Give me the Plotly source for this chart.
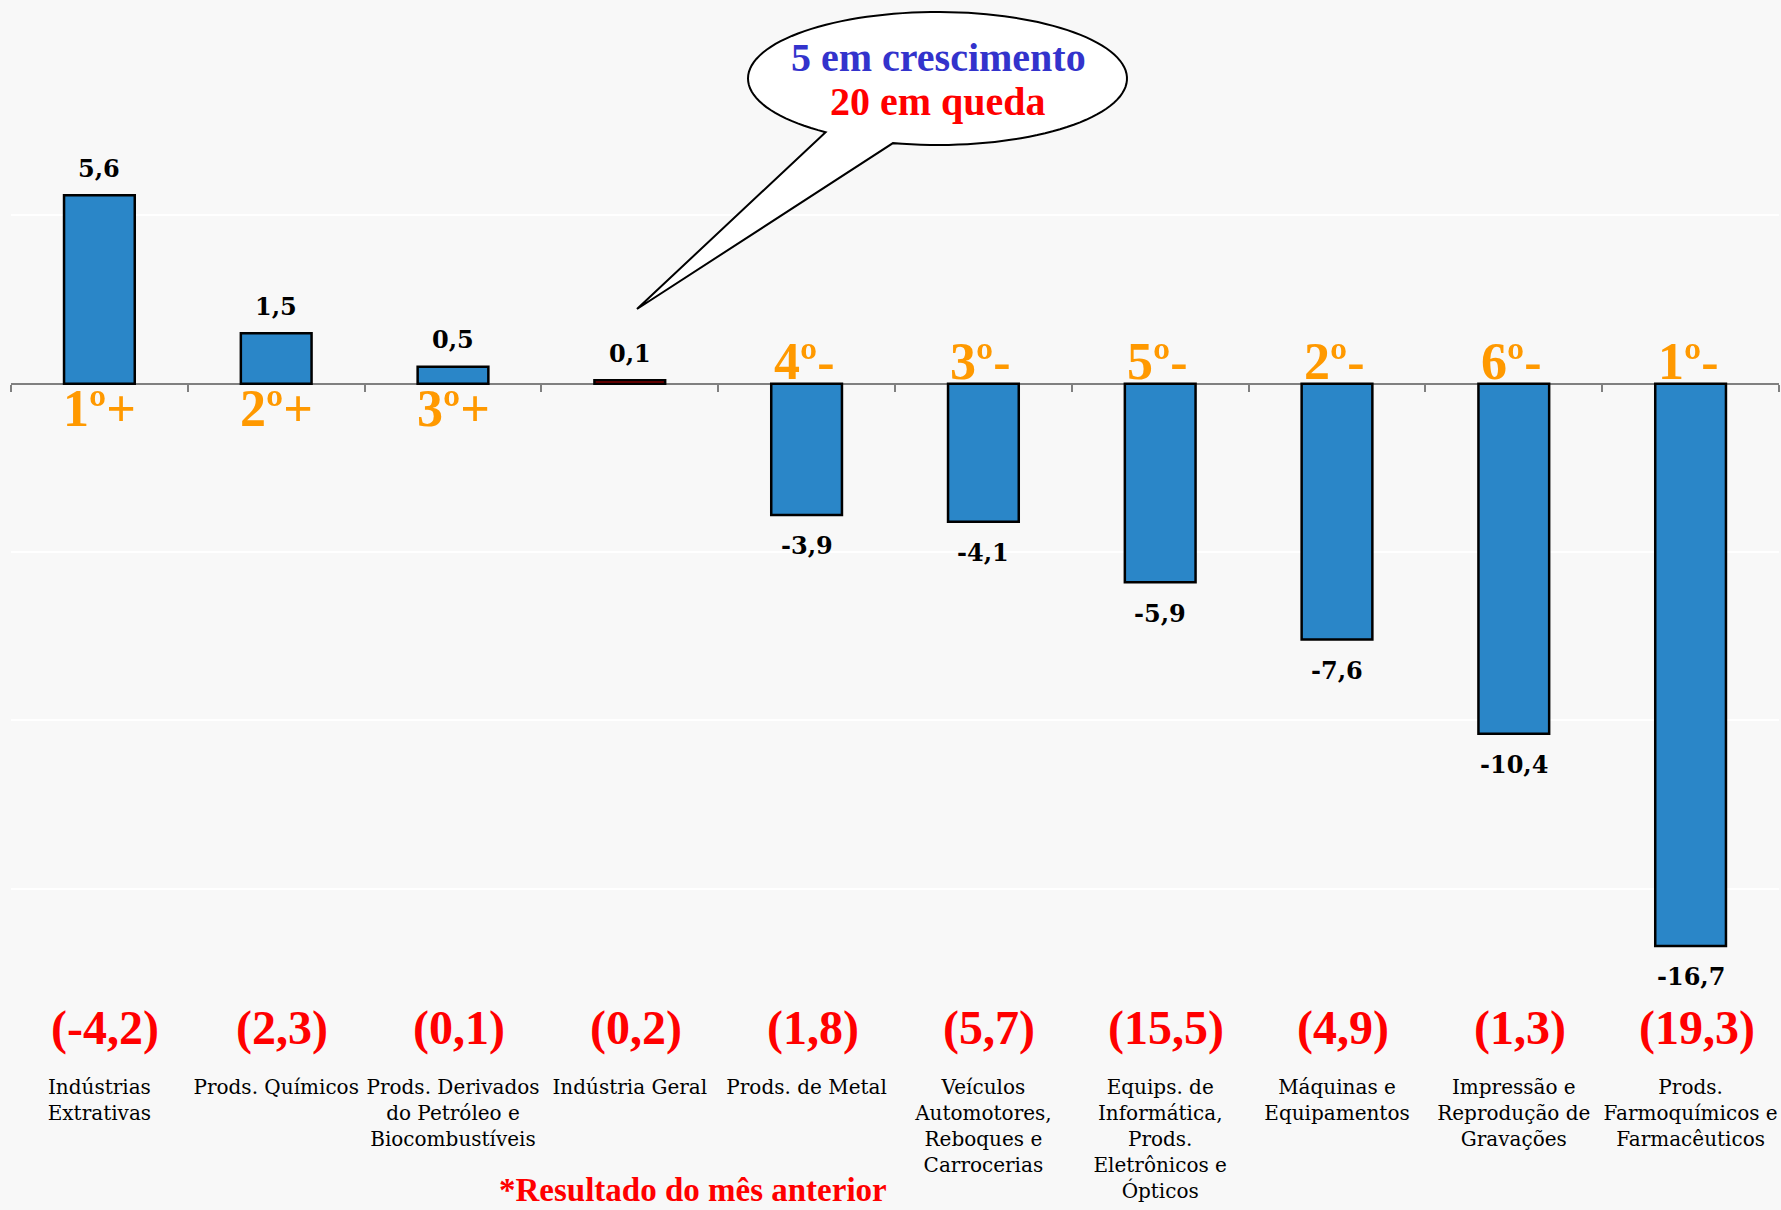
import numpy as np
import plotly.graph_objects as go

# ---------------- data ----------------
categories = [
    "Indústrias<br>Extrativas",
    "Prods. Químicos",
    "Prods. Derivados<br>do Petróleo e<br>Biocombustíveis",
    "Indústria Geral",
    "Prods. de Metal",
    "Veículos<br>Automotores,<br>Reboques e<br>Carrocerias",
    "Equips. de<br>Informática,<br>Prods.<br>Eletrônicos e<br>Ópticos",
    "Máquinas e<br>Equipamentos",
    "Impressão e<br>Reprodução de<br>Gravações",
    "Prods.<br>Farmoquímicos e<br>Farmacêuticos",
]
values = [5.6, 1.5, 0.5, 0.1, -3.9, -4.1, -5.9, -7.6, -10.4, -16.7]
previous_month = [-4.2, 2.3, 0.1, 0.2, 1.8, 5.7, 15.5, 4.9, 1.3, 19.3]
rank_labels = ["1º+", "2º+", "3º+", "", "4º-", "3º-", "5º-", "2º-", "6º-", "1º-"]
y_ticks = [-20, -15, -10, -5, 0, 5, 10]
y_range = [-20, 10]
callout_lines = ["5 em crescimento", "20 em queda"]
footnote = "*Resultado do mês anterior"

# ---------------- styles ----------------
BLUE = "#2A86C8"
bar_colors = [BLUE, BLUE, BLUE, "#C00000", BLUE, BLUE, BLUE, BLUE, BLUE, BLUE]
ORANGE = "#FF9900"
BG = "#F8F8F8"
W, H = 1781, 1210
ML, MR, MT, MB = 11, 2, 47, 153
PW, PH = W - ML - MR, H - MT - MB


def fmt(v):
    return f"{v:.1f}".replace(".", ",")


fig = go.Figure()
fig.add_trace(go.Bar(
    x=categories, y=values,
    marker=dict(color=bar_colors, line=dict(color="black", width=2.5)),
    hoverinfo="skip", showlegend=False,
))
# invisible companion trace so the zero-line category axis exists
fig.add_trace(go.Scatter(
    x=categories, y=values, xaxis="x2", mode="markers",
    marker=dict(opacity=0), hoverinfo="skip", showlegend=False,
))

annotations = []
for c, v in zip(categories, values):
    annotations.append(dict(
        x=c, y=v, text=fmt(v), showarrow=False, yanchor="middle",
        yshift=27 if v >= 0 else -31,
        font=dict(family="DejaVu Serif", size=24, color="black", weight="bold"),
    ))
for c, v, r in zip(categories, values, rank_labels):
    if not r:
        continue
    annotations.append(dict(
        x=c, y=0, text=r, showarrow=False, yanchor="middle",
        yshift=-25 if v >= 0 else 22,
        xshift=0 if v >= 0 else -3,
        font=dict(family="Liberation Serif", size=52, color=ORANGE, weight="bold"),
    ))
for c, p in zip(categories, previous_month):
    annotations.append(dict(
        x=c, y=-19.15, text=f"({fmt(p)})", showarrow=False, yanchor="middle",
        xshift=6,
        font=dict(family="Liberation Serif", size=48, color="#FF0000", weight="bold"),
    ))


def px2paper(px, py):
    return (px - ML) / PW, (MT + PH - py) / PH


# speech bubble (ellipse with tail)
cx, cy, rx, ry = 937.5, 78.5, 189.5, 66.5
tip = (637, 309)
t0, t1 = np.deg2rad(126.2), np.deg2rad(103.6 + 360)
ts = np.linspace(t0, t1, 120)
pts = [(cx + rx * np.cos(t), cy + ry * np.sin(t)) for t in ts] + [tip]
pp = [px2paper(*p) for p in pts]
path = "M " + " L ".join(f"{x:.5f},{y:.5f}" for x, y in pp) + " Z"

line1_x, line1_y = px2paper(938, 57)
line2_x, line2_y = px2paper(938, 101)
annotations.append(dict(
    xref="paper", yref="paper", x=line1_x, y=line1_y, text=callout_lines[0],
    showarrow=False, yanchor="middle",
    font=dict(family="Liberation Serif", size=40, color="#3333CC", weight="bold"),
))
annotations.append(dict(
    xref="paper", yref="paper", x=line2_x, y=line2_y, text=callout_lines[1],
    showarrow=False, yanchor="middle",
    font=dict(family="Liberation Serif", size=40, color="#FF0000", weight="bold"),
))
fx, fy = px2paper(693, 1190)
annotations.append(dict(
    xref="paper", yref="paper", x=fx, y=fy, text=footnote,
    showarrow=False, yanchor="middle",
    font=dict(family="Liberation Serif", size=33, color="#FF0000", weight="bold"),
))

zero_pos = (0 - y_range[0]) / (y_range[1] - y_range[0])

fig.update_layout(
    width=W, height=H,
    margin=dict(l=ML, r=MR, t=MT, b=MB),
    paper_bgcolor=BG, plot_bgcolor=BG,
    bargap=0.6,
    showlegend=False,
    xaxis=dict(
        type="category", categoryorder="array", categoryarray=categories,
        range=[-0.5, len(categories) - 0.5],
        showline=False, showgrid=False, zeroline=False, ticks="",
        tickfont=dict(family="DejaVu Serif", size=20, color="black"),
        ticklabelstandoff=16,
    ),
    xaxis2=dict(
        type="category", categoryorder="array", categoryarray=categories,
        range=[-0.5, len(categories) - 0.5],
        overlaying="x", anchor="free", position=zero_pos, side="bottom",
        showline=True, linecolor="#808080", linewidth=2,
        ticks="outside", tickson="boundaries", ticklen=7,
        tickcolor="#808080", tickwidth=1.5,
        showticklabels=False, showgrid=False, zeroline=False,
        layer="below traces",
    ),
    yaxis=dict(
        range=y_range, tickvals=y_ticks, showticklabels=False,
        showgrid=True, gridcolor="white", gridwidth=2,
        zeroline=False, showline=False, ticks="",
    ),
    annotations=annotations,
    shapes=[dict(
        type="path", xref="paper", yref="paper", path=path,
        fillcolor="white", line=dict(color="black", width=2), layer="above",
    )],
)

fig.write_html(
    "out.html",
    config={"displayModeBar": False},
    post_script="document.body.style.margin='0';document.body.style.background='" + BG + "';",
)
